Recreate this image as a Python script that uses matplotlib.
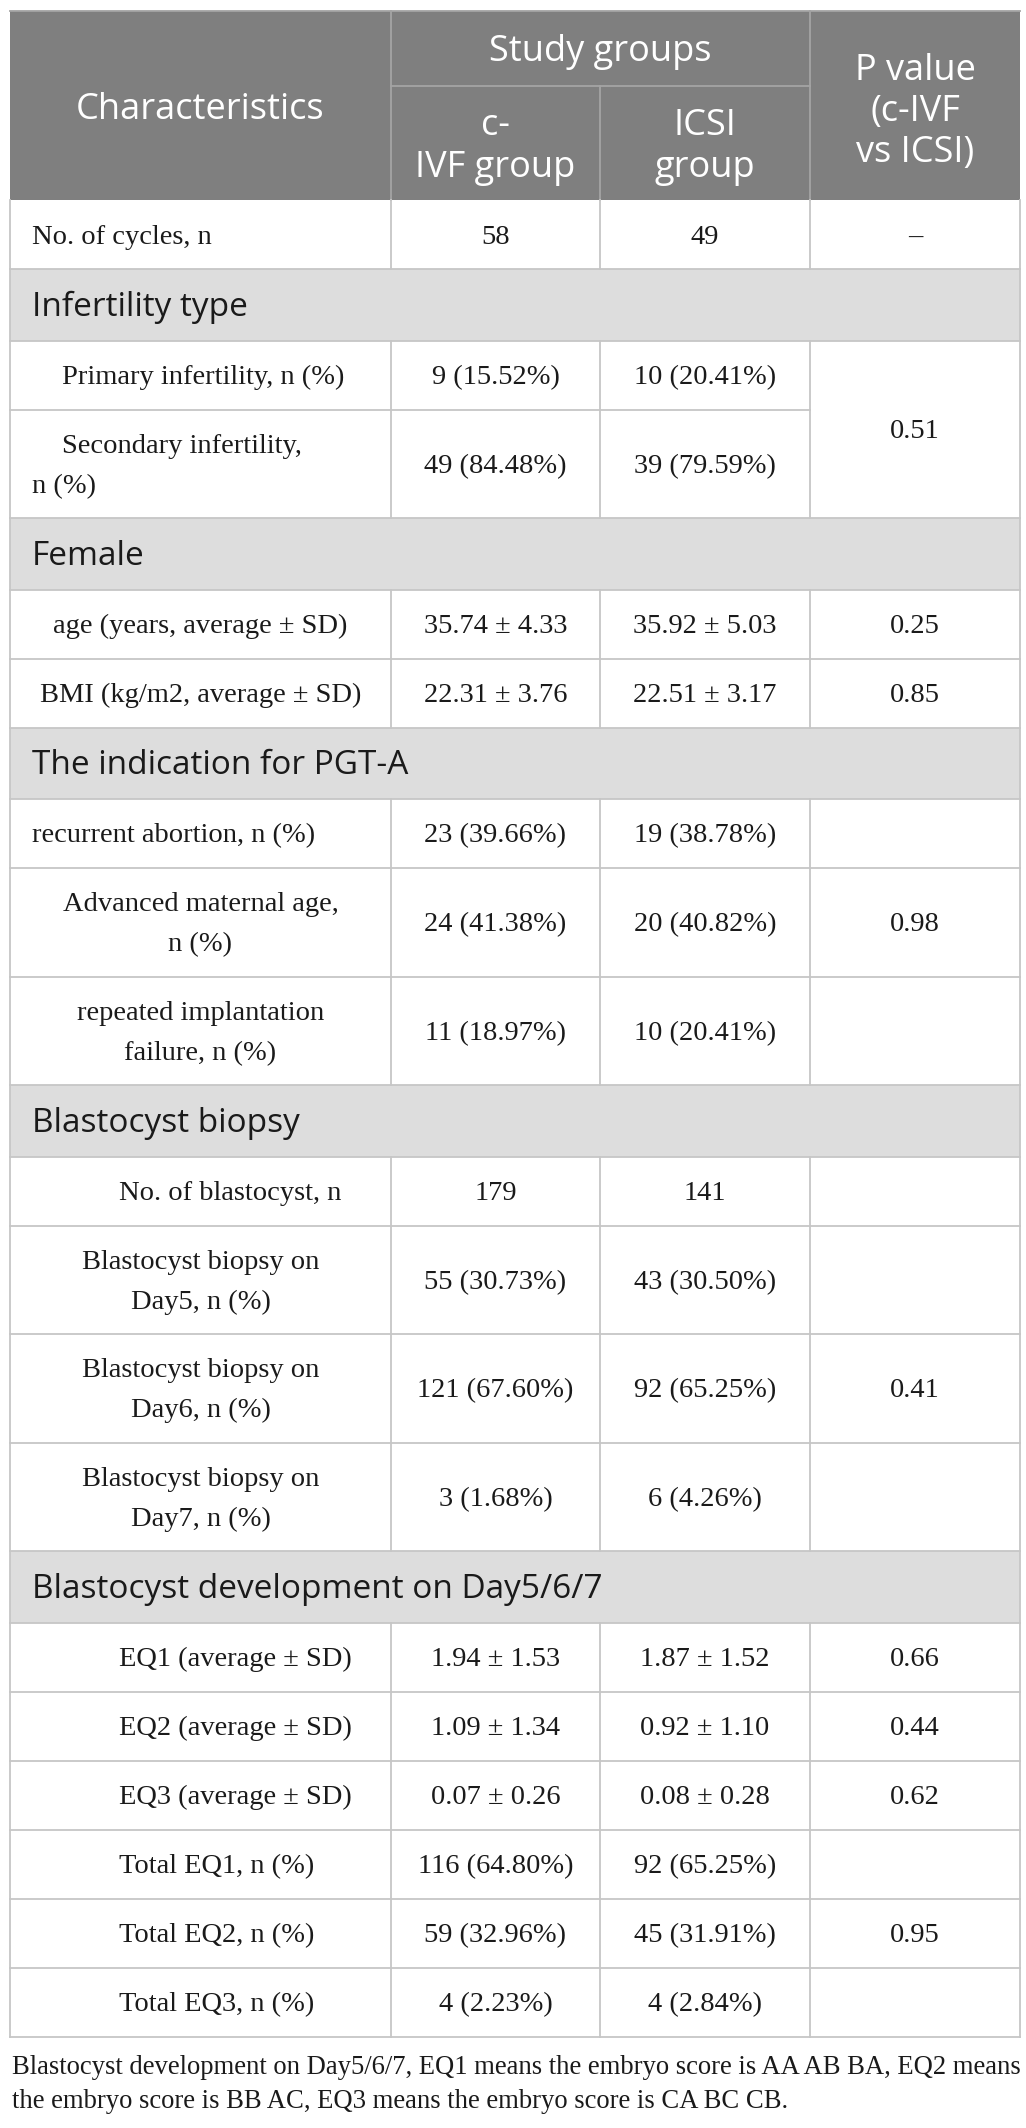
import matplotlib
matplotlib.use("Agg")
import matplotlib.pyplot as plt
from matplotlib.patches import Rectangle

# column headers
head_first = "Characteristics"
head_group = "Study groups"
head_ivf = "c-\nIVF group"
head_icsi = "ICSI\ngroup"
head_p = "P value\n(c-IVF\nvs ICSI)"

# rows: None in the value lists marks a section row
row_labels = [
    "No. of cycles, n",
    "Infertility type",
    "Primary infertility, n (%)",
    "Secondary infertility,\nn (%)",
    "Female",
    "age (years, average ± SD)",
    "BMI (kg/m2, average ± SD)",
    "The indication for PGT-A",
    "recurrent abortion, n (%)",
    "Advanced maternal age,\nn (%)",
    "repeated implantation\nfailure, n (%)",
    "Blastocyst biopsy",
    "No. of blastocyst, n",
    "Blastocyst biopsy on\nDay5, n (%)",
    "Blastocyst biopsy on\nDay6, n (%)",
    "Blastocyst biopsy on\nDay7, n (%)",
    "Blastocyst development on Day5/6/7",
    "EQ1 (average ± SD)",
    "EQ2 (average ± SD)",
    "EQ3 (average ± SD)",
    "Total EQ1, n (%)",
    "Total EQ2, n (%)",
    "Total EQ3, n (%)",
]
ivf_values = [
    "58", None, "9 (15.52%)", "49 (84.48%)", None, "35.74 ± 4.33", "22.31 ± 3.76",
    None, "23 (39.66%)", "24 (41.38%)", "11 (18.97%)", None, "179", "55 (30.73%)",
    "121 (67.60%)", "3 (1.68%)", None, "1.94 ± 1.53", "1.09 ± 1.34", "0.07 ± 0.26",
    "116 (64.80%)", "59 (32.96%)", "4 (2.23%)",
]
icsi_values = [
    "49", None, "10 (20.41%)", "39 (79.59%)", None, "35.92 ± 5.03", "22.51 ± 3.17",
    None, "19 (38.78%)", "20 (40.82%)", "10 (20.41%)", None, "141", "43 (30.50%)",
    "92 (65.25%)", "6 (4.26%)", None, "1.87 ± 1.52", "0.92 ± 1.10", "0.08 ± 0.28",
    "92 (65.25%)", "45 (31.91%)", "4 (2.84%)",
]
p_values = [
    "–", None, "0.51", "", None, "0.25", "0.85",
    None, "", "0.98", "", None, "", "",
    "0.41", "", None, "0.66", "0.44", "0.62",
    "", "0.95", "",
]
# how many rows each p cell covers (0 = covered by the cell above)
p_span = [1, 1, 2, 0, 1, 1, 1, 1, 1, 1, 1, 1, 1, 1, 1, 1, 1, 1, 1, 1, 1, 1, 1]
# how the first column is set: left, indent, center, inset
label_align = [
    "left", None, "indent", "indent", None, "center", "center", None, "left",
    "center", "center", None, "inset", "center", "center", "center", None,
    "inset", "inset", "inset", "inset", "inset", "inset",
]

footnote = ["Blastocyst development on Day5/6/7, EQ1 means the embryo score is AA AB BA, EQ2 means",
            "the embryo score is BB AC, EQ3 means the embryo score is CA BC CB."]

SERIF = "Liberation Serif"
SANS = "Open Sans"
HEAD_BG = "#7f7f7f"
SEC_BG = "#dddddd"
LINE = "#c6c6c6"
TXT = "#1a1a1a"

W, H = 1026, 2128
fig = plt.figure(figsize=(W / 100, H / 100), dpi=100)
ax = fig.add_axes([0, 0, 1, 1])
ax.set_xlim(0, W)
ax.set_ylim(H, 0)
ax.axis("off")

cols = [10, 391, 600, 810, 1020]
top, head_mid, head_bot = 11, 86, 200
h_one, h_two, h_sec = 69, 108.5, 71.5
lw = 1.3


def lines_at(x, baselines, text, **kw):
    # one text per line so the leading can be set in pixels
    for yb, part in zip(baselines, text.split("\n")):
        ax.text(x, yb, part, va="baseline", **kw)


# header
ax.add_patch(Rectangle((cols[0], top), cols[-1] - cols[0], head_bot - top, fc=HEAD_BG, ec="none"))
hl = "#a4a4a4"
ax.plot([cols[0], cols[-1]], [top, top], color=hl, lw=lw)
ax.plot([cols[1], cols[1]], [top, head_bot], color=hl, lw=lw)
ax.plot([cols[3], cols[3]], [top, head_bot], color=hl, lw=lw)
ax.plot([cols[2], cols[2]], [head_mid, head_bot], color=hl, lw=lw)
ax.plot([cols[1], cols[3]], [head_mid, head_mid], color=hl, lw=lw)
hkw = dict(family=SANS, fontsize=26, color="white", ha="center")
lines_at((cols[0] + cols[1]) / 2, [119], head_first, **hkw)
lines_at((cols[1] + cols[3]) / 2, [61], head_group, **hkw)
lines_at((cols[1] + cols[2]) / 2, [135, 177], head_ivf, **hkw)
lines_at((cols[2] + cols[3]) / 2, [135, 177], head_icsi, **hkw)
lines_at((cols[3] + cols[4]) / 2, [80, 121, 162], head_p, **hkw)

# row heights from the content
heights = []
for lab, v in zip(row_labels, ivf_values):
    if v is None:
        heights.append(h_sec)
    elif "\n" in lab:
        heights.append(h_two)
    else:
        heights.append(h_one)
edges = [head_bot]
for h in heights:
    edges.append(edges[-1] + h)


def baselines(yc, n):
    if n == 1:
        return [yc + 9]
    return [yc + 9 - 20, yc + 9 + 20]


bkw = dict(family=SERIF, fontsize=20.5, color=TXT)
for i, lab in enumerate(row_labels):
    y0, y1 = edges[i], edges[i + 1]
    yc = (y0 + y1) / 2
    if ivf_values[i] is None:
        ax.add_patch(Rectangle((cols[0], y0), cols[-1] - cols[0], y1 - y0, fc=SEC_BG, ec="none"))
        lines_at(32, [yc + 11], lab, family=SANS, fontsize=24, color=TXT, ha="left")
        ax.plot([cols[0], cols[-1]], [y1, y1], color=LINE, lw=lw)
        continue
    a = label_align[i]
    bl = baselines(yc, lab.count("\n") + 1)
    if a == "center":
        lines_at((cols[0] + cols[1]) / 2, bl, lab, ha="center", **bkw)
    elif a == "inset":
        lines_at(119, bl, lab, ha="left", **bkw)
    elif a == "indent":
        parts = lab.split("\n")
        lines_at(62, bl[:1], parts[0], ha="left", **bkw)
        if len(parts) > 1:
            lines_at(32, bl[1:], parts[1], ha="left", **bkw)
    else:
        lines_at(32, bl, lab, ha="left", **bkw)
    lines_at((cols[1] + cols[2]) / 2, baselines(yc, 1), ivf_values[i], ha="center", **bkw)
    lines_at((cols[2] + cols[3]) / 2, baselines(yc, 1), icsi_values[i], ha="center", **bkw)
    if p_span[i] > 0:
        pe = edges[i + p_span[i]]
        lines_at((cols[3] + cols[4]) / 2, baselines((y0 + pe) / 2, 1), p_values[i], ha="center", **bkw)
    # bottom line, shortened where the p cell continues
    right = cols[3] if (i + 1 < len(p_span) and p_span[i + 1] == 0) else cols[-1]
    ax.plot([cols[0], right], [y1, y1], color=LINE, lw=lw)
    for x in cols[1:4]:
        ax.plot([x, x], [y0, y1], color=LINE, lw=lw)

# outer border of the body
ax.plot([cols[0], cols[0]], [head_bot, edges[-1]], color=LINE, lw=lw)
ax.plot([cols[-1], cols[-1]], [head_bot, edges[-1]], color=LINE, lw=lw)

foot_y = edges[-1] + 38
lines_at(12, [foot_y, foot_y + 33], "\n".join(footnote), family=SERIF, fontsize=19.2,
         color=TXT, ha="left")

fig.savefig("out.png", dpi=100, facecolor="white")
